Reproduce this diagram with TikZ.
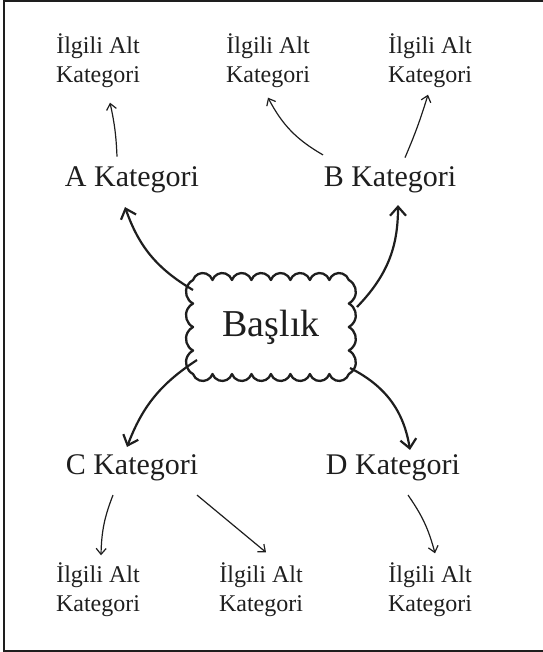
\documentclass[tikz,border=0pt]{standalone}
\usepackage{fontspec}
\setmainfont{Liberation Serif}
\usetikzlibrary{arrows.meta}
\definecolor{ink}{HTML}{1E1E1E}
\tikzset{
  cat/.style={inner sep=0pt, text=ink, font=\fontsize{30}{36}\selectfont},
  sub/.style={inner sep=0pt, text=ink, align=center, font=\fontsize{24}{29}\selectfont},
  titlebox/.style={rectangle, inner sep=0pt, minimum width=156pt, minimum height=94pt,
    text=ink, font=\fontsize{38}{44}\selectfont},
  cloudline/.style={draw=ink, line width=2.3pt, line join=round},
  thickarrow/.style={draw=ink, line width=2.2pt, -{Straight Barb[length=9pt,width=16pt]}},
  thinarrow/.style={draw=ink, line width=1.2pt, -{Straight Barb[length=6pt,width=10pt]}},
}
\begin{document}
\begin{tikzpicture}[x=1pt,y=-1pt]
\useasboundingbox (0,0) rectangle (542,652);
\draw[ink, line width=2pt] (560,1) -- (4.2,1) -- (4.2,651) -- (560,651);

\node[sub] (S1) at (98,61) {İlgili Alt\\Kategori};
\node[sub] (S2) at (268,61) {İlgili Alt\\Kategori};
\node[sub] (S3) at (430,61) {İlgili Alt\\Kategori};
\node[cat] (A) at (132,180) {A Kategori};
\node[cat] (B) at (390,180) {B Kategori};
\node[titlebox] (T) at (271,327) {Başlık};
\node[cat] (C) at (132,468) {C Kategori};
\node[cat] (D) at (393,468) {D Kategori};
\node[sub] (S4) at (98,590) {İlgili Alt\\Kategori};
\node[sub] (S5) at (261,590) {İlgili Alt\\Kategori};
\node[sub] (S6) at (430,590) {İlgili Alt\\Kategori};

% cloud outline around the title
\begin{scope}[shift={(T.center)}, x=1pt, y=1pt]
\draw[cloudline] (-78,47)
  \foreach \i in {1,...,8} { arc[start angle=161, end angle=19, radius=10.3] }
  \foreach \i in {1,...,4} { arc[start angle=61.6, end angle=-61.6, radius=13.36] }
  \foreach \i in {1,...,8} { arc[start angle=-19, end angle=-161, radius=10.3] }
  \foreach \i in {1,...,4} { arc[start angle=-118.4, end angle=-241.6, radius=13.36] }
  -- cycle;
\end{scope}

% thick arrows from the title
\draw[thickarrow] ([xshift=-78pt,yshift=37pt]T.center) to[bend left=20] ([xshift=-7pt,yshift=-13.7pt]A.south);
\draw[thickarrow] ([xshift=86pt,yshift=20pt]T.center) to[bend right=22] ([xshift=8pt,yshift=-11.7pt]B.south);
\draw[thickarrow] ([xshift=-74pt,yshift=-33pt]T.center) to[bend right=18] ([xshift=-5pt,yshift=7.7pt]C.north);
\draw[thickarrow] ([xshift=79pt,yshift=-41pt]T.center) to[bend left=27] ([xshift=17pt,yshift=4.7pt]D.north);

% thin arrows to sub categories
\draw[thinarrow] ([xshift=-15pt,yshift=10pt]A.north) to[bend right=5] ([xshift=12pt,yshift=-14.5pt]S1.south);
\draw[thinarrow] ([xshift=-67pt,yshift=11.7pt]B.north) to[bend left=16] ([xshift=0pt,yshift=-9.5pt]S2.south);
\draw[thinarrow] ([xshift=15pt,yshift=9pt]B.north) to[bend right=3] ([xshift=-2pt,yshift=-6.5pt]S3.south);
\draw[thinarrow] ([xshift=-19pt,yshift=-13.7pt]C.south) to[bend right=10] ([xshift=3pt,yshift=7.5pt]S4.north);
\draw[thinarrow] ([xshift=65pt,yshift=-13.7pt]C.south) -- ([xshift=5pt,yshift=10.5pt]S5.north);
\draw[thinarrow] ([xshift=15pt,yshift=-13.7pt]D.south) to[bend left=10] ([xshift=5pt,yshift=9.5pt]S6.north);
\end{tikzpicture}
\end{document}
